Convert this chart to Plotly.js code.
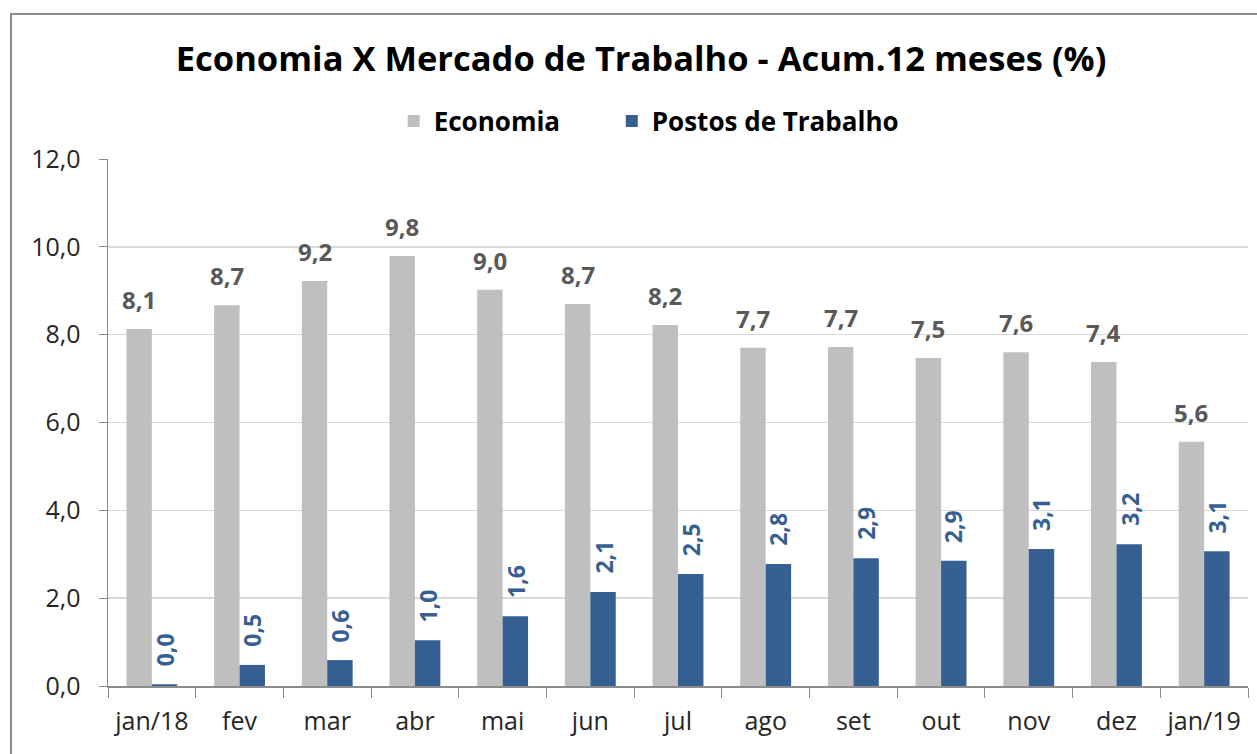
<!DOCTYPE html>
<html>
<head>
<meta charset="utf-8">
<script src="https://cdn.plot.ly/plotly-3.0.1.min.js"></script>
<style>
  html, body { margin: 0; padding: 0; background: #fff; overflow: hidden; }
  #chart { width: 1257px; height: 754px; }
  #frame { position: absolute; left: 10px; top: 13px; width: 1300px; height: 800px;
           border: 2px solid #8c8c8c; pointer-events: none; box-sizing: border-box; }
</style>
</head>
<body>
<div id="chart"></div>
<div id="frame"></div>
<script>
const categories = ["jan/18", "fev", "mar", "abr", "mai", "jun", "jul", "ago", "set", "out", "nov", "dez", "jan/19"];
const economia = [8.13, 8.67, 9.22, 9.79, 9.02, 8.70, 8.22, 7.70, 7.72, 7.47, 7.60, 7.38, 5.56];
const postos = [0.04, 0.48, 0.59, 1.04, 1.59, 2.14, 2.55, 2.78, 2.91, 2.85, 3.12, 3.23, 3.07];
const seriesNames = ["Economia", "Postos de Trabalho"];
const titleText = "Economia X Mercado de Trabalho - Acum.12 meses (%)";

const FONT = "'Open Sans', 'Noto Sans', sans-serif";
const BARGAP = 0.42;
const half = (1 - BARGAP) / 4; // bar centre offset from category centre, in category units

const fmt = v => v.toFixed(1).replace(".", ",");

const traces = [
  {
    type: "bar", name: seriesNames[0], x: categories, y: economia,
    marker: { color: "#bfbfbf" }, hoverinfo: "skip", legend: "legend"
  },
  {
    type: "bar", name: seriesNames[1], x: categories, y: postos,
    marker: { color: "#376092" }, hoverinfo: "skip", legend: "legend2"
  }
];

const annotations = [];
categories.forEach((c, i) => {
  annotations.push({
    x: i - half, y: economia[i], xref: "x", yref: "y",
    text: fmt(economia[i]), showarrow: false,
    xanchor: "center", yanchor: "bottom", yshift: 11,
    font: { family: FONT, size: 24, color: "#595959", weight: "bold" }
  });
  annotations.push({
    x: i + half, y: postos[i], xref: "x", yref: "y",
    text: fmt(postos[i]), showarrow: false, textangle: -90,
    xanchor: "center", yanchor: "bottom", yshift: 16,
    font: { family: FONT, size: 23, color: "#376092", weight: "bold" }
  });
});

const legendFont = { family: FONT, size: 26, color: "#000000", weight: "bold" };

const layout = {
  width: 1257, height: 754,
  margin: { l: 108, r: 9, t: 159, b: 68 },
  paper_bgcolor: "#ffffff", plot_bgcolor: "#ffffff",
  separators: ",.",
  font: { family: FONT, size: 24, color: "#262626" },
  title: {
    text: titleText,
    font: { family: FONT, size: 34.5, color: "#000000", weight: "bold" },
    x: 0.51, xanchor: "center", y: 0.922, yanchor: "middle", xref: "container", yref: "container"
  },
  showlegend: true,
  legend: {
    orientation: "h", x: 0.2506, xanchor: "left", y: 1.072, yanchor: "middle",
    font: legendFont, itemwidth: 30, bgcolor: "rgba(0,0,0,0)"
  },
  legend2: {
    orientation: "h", x: 0.4419, xanchor: "left", y: 1.072, yanchor: "middle",
    font: legendFont, itemwidth: 30, bgcolor: "rgba(0,0,0,0)"
  },
  annotations: annotations,
  barmode: "group", bargap: BARGAP, bargroupgap: 0,
  xaxis: {
    type: "category",
    showline: true, linecolor: "#8c8c8c", linewidth: 1.5,
    ticks: "outside", tickson: "boundaries", ticklen: 10, tickcolor: "#8c8c8c",
    ticklabelstandoff: 12,
    tickfont: { family: FONT, size: 25, color: "#262626" },
    showgrid: false, fixedrange: true
  },
  yaxis: {
    range: [0, 12], dtick: 2, tickformat: ".1f",
    showline: true, linecolor: "#8c8c8c", linewidth: 1.5,
    ticks: "outside", ticklen: 8, tickcolor: "#8c8c8c",
    ticklabelstandoff: 13,
    tickfont: { family: FONT, size: 25, color: "#262626" },
    showgrid: true, gridcolor: "#d9d9d9", gridwidth: 1.5,
    zeroline: false, fixedrange: true
  }
};

Plotly.newPlot("chart", traces, layout, { displayModeBar: false, staticPlot: true });
</script>
</body>
</html>
